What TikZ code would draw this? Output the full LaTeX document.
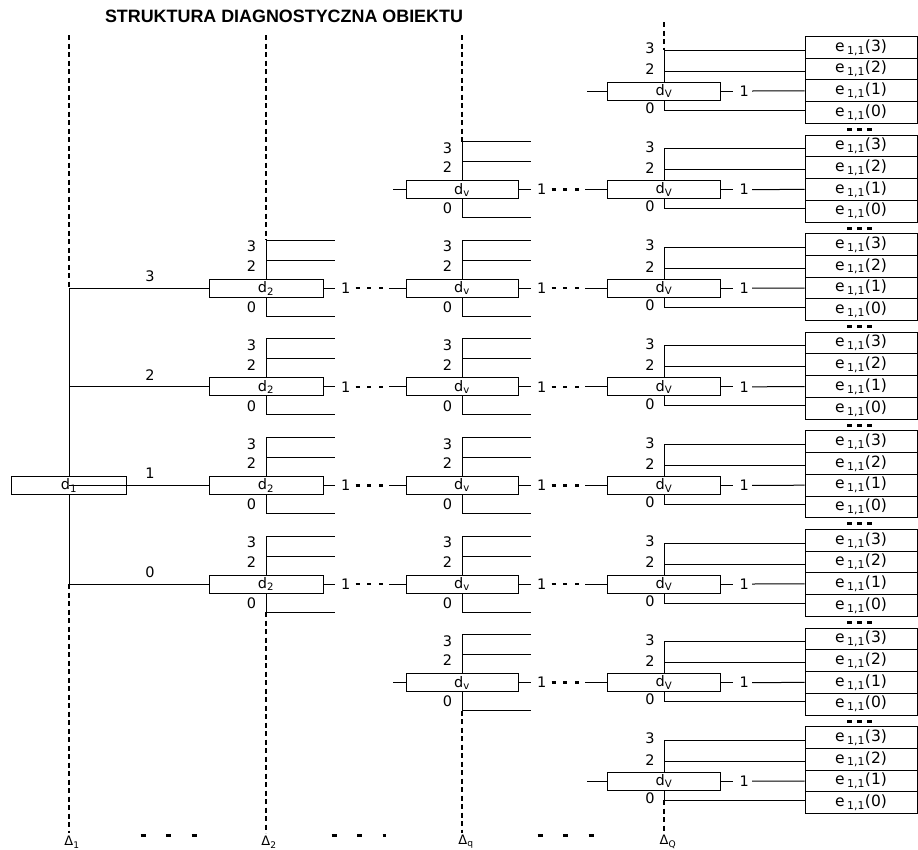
\documentclass[tikz,border=0pt]{standalone}
\usepackage{fontspec}
\setmainfont{DejaVu Sans}
\newfontfamily\arialfont{Liberation Sans}
\usepackage{tikz}

\begin{document}
\begin{tikzpicture}[
      x=1pt, y=-1pt, line width=1pt,
      every node/.style = {inner sep=0pt, font=\fontsize{14.5}{14.5}\selectfont},
      dbox/.style  = {draw, minimum height=18pt},
      ebox/.style  = {draw, minimum width=112pt, minimum height=21.75pt,
                      font=\fontsize{15.5}{15.5}\selectfont},
      levlbl/.style = {font=\fontsize{13}{13}\selectfont},
      guide/.style = {line width=1.6pt, dash pattern=on 5pt off 3.5pt},
      cdots/.style = {line width=2.5pt, dash pattern=on 4pt off 7.7pt},
      edots/.style = {line width=3pt, dash pattern=on 5pt off 5pt},
      ldots/.style = {line width=3pt, dash pattern=on 5pt off 20.5pt}
    ]
    \useasboundingbox (0,0) rectangle (918,849);
    \node[font=\arialfont\bfseries\fontsize{17.9}{17.9}\selectfont] (title) at (284,16)
      {STRUKTURA DIAGNOSTYCZNA OBIEKTU};

    % levels of the structure
    \node[levlbl] (lev1) at (72,842)  {Δ\textsubscript{1}};
    \node[levlbl] (lev2) at (269,842) {Δ\textsubscript{2}};
    \node[levlbl] (levq) at (466,842) {Δ\textsubscript{q}};
    \node[levlbl] (levQ) at (668,842) {Δ\textsubscript{Q}};
    \draw[guide] (69,35) -- (69,288.2)  (69,584) -- (69,833);
    \draw[guide] (266,35) -- (266,240.2)  (266,612) -- (266,833);
    \draw[guide] (462,35) -- (462,141.6)  (462,710.6) -- (462,833);
    \draw[guide] (664,22) -- (664,50)  (664,800.2) -- (664,833);
    \draw[ldots] (140.5,835) -- (198,835);
    \draw[ldots] (331.5,835) -- (386,835);
    \draw[ldots] (537.5,835) -- (595,835);

    % first level
    \node[dbox, minimum width=115pt] (d1) at (69,485.4) {d\textsubscript{1}};
    \draw (d1.north) -- (69,288.2);
    \draw (d1.south) -- (69,584);

    % middle levels
    \foreach \nm/\sub/\cx/\cw/\ce/\ka/\kb in {d2/2/266/114/335/2/5, dq/v/462/112/531/1/6} {
      \foreach \k in {\ka,...,\kb} {
        \pgfmathsetmacro\yy{91+98.6*\k}
        \node[dbox, minimum width=\cw pt] (\nm-\k) at (\cx,\yy) {d\textsubscript{\sub}};
        \draw (\nm-\k.north) -- (\cx,\yy-48) -- (\ce,\yy-48);
        \draw (\cx,\yy-28) -- (\ce,\yy-28);
        \draw (\nm-\k.south) -- (\cx,\yy+28) -- (\ce,\yy+28);
        \node[anchor=east] at (\cx-9.5,\yy-41.5) {3};
        \node[anchor=east] at (\cx-9.5,\yy-22) {2};
        \node[anchor=east] at (\cx-9.5,\yy+19) {0};
      }
    }

    % last level with the elementary states
    \foreach \k in {0,...,7} {
      \pgfmathsetmacro\yy{91+98.6*\k}
      \foreach \j in {0,...,3}
        \node[ebox] (e-\k-\j) at (861,\yy+21.55-21.75*\j) {e\,\textsubscript{1,1}(\j)};
      \node[dbox, minimum width=113pt] (dV-\k) at (664,\yy) {d\textsubscript{V}};
      \draw (dV-\k.north) -- (664,\yy-41) coordinate (a) -- (a -| e-\k-3.west);
      \draw (664,\yy-20) coordinate (b) -- (b -| e-\k-2.west);
      \draw (dV-\k.south) -- (664,\yy+19) coordinate (c) -- (c -| e-\k-0.west);
      \node[anchor=east] at (655,\yy-42.5) {3};
      \node[anchor=east] at (655,\yy-21.5) {2};
      \node[anchor=east] at (655,\yy+17) {0};
      \draw (dV-\k.east) -- ++(12,0) node[right=6pt] (o4-\k) {1};
      \draw ([xshift=3pt]o4-\k.east) -- (e-\k-1.west);
    }
    \foreach \k in {0,...,6} {
      \pgfmathsetmacro\yy{91+98.6*\k}
      \draw[edots] (847,\yy+38.5) -- ++(27,0);
    }

    % connections between levels
    \foreach \k/\t in {2/3, 3/2, 4/1, 5/0}
      \draw (d1 |- d2-\k) -- (d2-\k.west) node[pos=0.58, above=6pt] {\t};
    \foreach \k in {2,...,5} {
      \draw (d2-\k.east) -- ++(11,0) node[right=6pt] (o2-\k) {1};
      \draw[cdots] ([xshift=5pt]o2-\k.east) -- ++(28,0);
      \draw (dq-\k.west) -- ++(-17,0);
    }
    \foreach \k in {1,...,6} {
      \draw (dq-\k.east) -- ++(12,0) node[right=6pt] (o3-\k) {1};
      \draw[cdots] ([xshift=5pt]o3-\k.east) -- ++(28,0);
      \draw (dV-\k.west) -- ++(-22,0);
    }
    \draw (dq-1.west) -- ++(-13,0);
    \draw (dq-6.west) -- ++(-13,0);
    \draw (dV-0.west) -- ++(-20,0);
    \draw (dV-7.west) -- ++(-20,0);
  \end{tikzpicture}
\end{document}
